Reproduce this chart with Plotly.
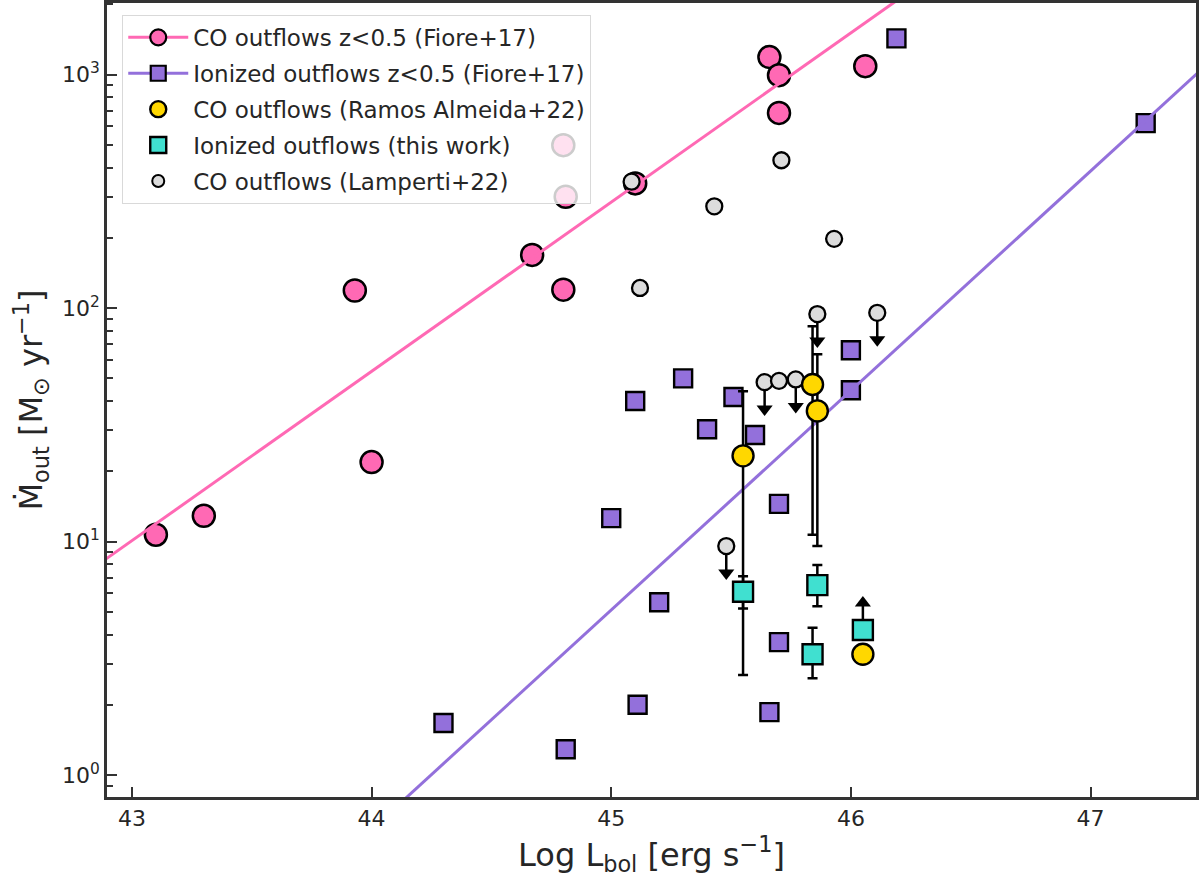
import numpy as np
import plotly.graph_objects as go

# ---------------- data ----------------
# CO outflows z<0.5 (Fiore+17)
co_fiore_x = [43.10, 43.30, 43.93, 44.00, 44.67, 44.80, 44.81, 44.80, 45.10, 45.66, 45.70, 45.70, 46.06]
co_fiore_y = [10.7, 12.9, 119, 21.9, 169, 120, 300, 499, 342, 1190, 995, 686, 1087]

# Ionized outflows z<0.5 (Fiore+17)
ion_fiore_x = [44.30, 44.81, 45.00, 45.10, 45.11, 45.20, 45.30, 45.40, 45.51, 45.60,
               45.66, 45.70, 45.70, 46.00, 46.00, 46.19, 47.23]
ion_fiore_y = [1.67, 1.29, 12.6, 40, 2.0, 5.5, 50, 30.3, 41.6, 28.6,
               1.86, 14.5, 3.71, 66, 44.5, 1430, 620]

# Fiore+17 relations (log Mdot = slope*(logL-45) + norm)
co_rel_slope, co_rel_norm = 0.725, 2.454
ion_rel_slope, ion_rel_norm = 0.940, 0.707

# CO outflows (Ramos Almeida+22)
ra_x = [45.55, 45.84, 45.86, 46.05]
ra_y = [23.3, 47.1, 36.3, 3.29]
ra_lo = [2.68, 10.7, 9.57, 3.29]
ra_hi = [44.0, 83.7, 63.4, 3.29]

# Ionized outflows (this work)
tw_x = [45.55, 45.86, 45.84, 46.05]
tw_y = [6.1, 6.51, 3.29, 4.18]
tw_lo = [5.17, 5.29, 2.60, 4.18]
tw_hi = [7.10, 7.93, 4.27, 4.18]
tw_lowerlim = [False, False, False, True]

# CO outflows (Lamperti+22)
lam_x = [45.085, 45.12, 45.43, 45.71, 45.93, 45.86, 46.11, 45.64, 45.70, 45.77, 45.48]
lam_y = [348, 122, 273, 430, 198, 94.3, 95.5, 48.2, 48.8, 49.5, 9.57]
lam_upperlim = [False, False, False, False, False, True, True, True, False, True, True]

x_range = [42.896, 47.44]
y_range_log = [-0.094, 3.307]
ytick_vals = [1, 10, 100, 1000]
ytick_text = ["10<sup>0</sup>", "10<sup>1</sup>", "10<sup>2</sup>", "10<sup>3</sup>"]
xtick_vals = [43, 44, 45, 46, 47]

# ---------------- styling ----------------
PINK = "#FF69B4"
PURPLE = "#9370DB"
GOLD = "#FFD700"
TURQ = "#40E0D0"
GRAY = "#DCDCDC"
EDGE = "black"
AXC = "#333333"
TXT = "#262626"
FONT = "DejaVu Sans"

PX_DEX = 1.0 / 233.5  # one pixel in dex on the y axis
ARROW_LEN = 34 * PX_DEX
HEAD_OFF = 7 * PX_DEX

fig = go.Figure()

# Fiore data markers (drawn first, below relation lines)
fig.add_trace(go.Scatter(
    x=co_fiore_x, y=co_fiore_y, mode="markers", showlegend=False,
    legendgroup="g1",
    marker=dict(symbol="circle", size=22, color=PINK, line=dict(color=EDGE, width=2.5)),
))
fig.add_trace(go.Scatter(
    x=ion_fiore_x, y=ion_fiore_y, mode="markers", showlegend=False,
    legendgroup="g2",
    marker=dict(symbol="square", size=18, color=PURPLE, line=dict(color=EDGE, width=2.4)),
))

# relation lines (markers at ends fall outside the axes -> clipped; used for legend)
lx = np.array([42.0, 48.5])
fig.add_trace(go.Scatter(
    x=lx, y=10 ** (co_rel_slope * (lx - 45) + co_rel_norm), mode="lines+markers",
    name="CO outflows z<0.5 (Fiore+17)", legendgroup="g1", legendrank=1,
    line=dict(color=PINK, width=3),
    marker=dict(symbol="circle", size=16, color=PINK, line=dict(color=EDGE, width=2.2)),
))
fig.add_trace(go.Scatter(
    x=lx, y=10 ** (ion_rel_slope * (lx - 45) + ion_rel_norm), mode="lines+markers",
    name="Ionized outflows z<0.5 (Fiore+17)", legendgroup="g2", legendrank=2,
    line=dict(color=PURPLE, width=3),
    marker=dict(symbol="square", size=15, color=PURPLE, line=dict(color=EDGE, width=2.2)),
))

# upper-limit arrows for Lamperti
sx, sy, hx, hy = [], [], [], []
for x, y, ul in zip(lam_x, lam_y, lam_upperlim):
    if ul:
        ly = np.log10(y)
        sx += [x, x, None]
        sy += [y, 10 ** (ly - ARROW_LEN + HEAD_OFF), None]
        hx.append(x)
        hy.append(10 ** (ly - ARROW_LEN + HEAD_OFF))
# lower-limit arrow for this work
for x, y, ll in zip(tw_x, tw_y, tw_lowerlim):
    if ll:
        ly = np.log10(y)
        sx += [x, x, None]
        sy += [y, 10 ** (ly + ARROW_LEN - HEAD_OFF), None]
fig.add_trace(go.Scatter(x=sx, y=sy, mode="lines", showlegend=False,
                         line=dict(color=EDGE, width=2.5), hoverinfo="skip"))
fig.add_trace(go.Scatter(x=hx, y=hy, mode="markers", showlegend=False, hoverinfo="skip",
                         marker=dict(symbol="triangle-down", size=14, color=EDGE,
                                     line=dict(width=0))))
ux = [x for x, ll in zip(tw_x, tw_lowerlim) if ll]
uy = [10 ** (np.log10(y) + ARROW_LEN - HEAD_OFF) for y, ll in zip(tw_y, tw_lowerlim) if ll]
fig.add_trace(go.Scatter(x=ux, y=uy, mode="markers", showlegend=False, hoverinfo="skip",
                         marker=dict(symbol="triangle-up", size=14, color=EDGE,
                                     line=dict(width=0))))

# Lamperti+22
fig.add_trace(go.Scatter(
    x=lam_x, y=lam_y, mode="markers", showlegend=False, legendgroup="g5",
    marker=dict(symbol="circle", size=16, color=GRAY, line=dict(color=EDGE, width=2.3)),
))
fig.add_trace(go.Scatter(
    x=[None], y=[None], mode="markers", name="CO outflows (Lamperti+22)",
    legendgroup="g5", legendrank=5,
    marker=dict(symbol="circle", size=12, color=GRAY, line=dict(color=EDGE, width=2)),
))

# Ramos Almeida+22 with error bars
ra_plus = [h - y for h, y in zip(ra_hi, ra_y)]
ra_minus = [y - l for l, y in zip(ra_lo, ra_y)]
fig.add_trace(go.Scatter(
    x=ra_x, y=ra_y, mode="markers", name="CO outflows (Ramos Almeida+22)",
    legendgroup="g3", legendrank=3,
    error_y=dict(type="data", symmetric=False, array=ra_plus, arrayminus=ra_minus,
                 color=EDGE, thickness=2.5, width=5),
    marker=dict(symbol="circle", size=21, color=GOLD, line=dict(color=EDGE, width=2.4)),
))

# this work
tw_plus = [h - y for h, y in zip(tw_hi, tw_y)]
tw_minus = [y - l for l, y in zip(tw_lo, tw_y)]
fig.add_trace(go.Scatter(
    x=tw_x, y=tw_y, mode="markers", name="Ionized outflows (this work)",
    legendgroup="g4", legendrank=4,
    error_y=dict(type="data", symmetric=False, array=tw_plus, arrayminus=tw_minus,
                 color=EDGE, thickness=2.5, width=5),
    marker=dict(symbol="square", size=20, color=TURQ, line=dict(color=EDGE, width=2.4)),
))

minor_vals = [m * 10 ** e for e in range(-1, 4) for m in range(2, 10)]

fig.update_layout(
    width=1200, height=880,
    margin=dict(l=107, r=4, t=3, b=83),
    paper_bgcolor="white", plot_bgcolor="white",
    font=dict(family=FONT, size=22, color=TXT),
    showlegend=True,
    legend=dict(
        x=0.014, y=0.985, xanchor="left", yanchor="top",
        bgcolor="rgba(255,255,255,0.8)", bordercolor="#D9D9D9", borderwidth=1,
        font=dict(family=FONT, size=23, color=TXT),
        traceorder="grouped", tracegroupgap=3, itemwidth=60,
    ),
    xaxis=dict(
        range=x_range, tickvals=xtick_vals, ticks="inside", ticklen=10, tickwidth=2,
        tickcolor=AXC, showline=True, linecolor=AXC, linewidth=2.5, mirror=True,
        showgrid=False, zeroline=False, automargin=False,
        tickfont=dict(family=FONT, size=22, color=TXT),
        title=dict(text="Log L<sub>bol</sub> [erg s<sup>−1</sup>]",
                   font=dict(family=FONT, size=32, color=TXT), standoff=8),
    ),
    yaxis=dict(
        type="log", range=y_range_log, tickvals=ytick_vals, ticktext=ytick_text,
        ticks="inside", ticklen=10, tickwidth=2, tickcolor=AXC,
        minor=dict(tickvals=minor_vals, ticks="inside", ticklen=6, tickwidth=1.8,
                   tickcolor=AXC, showgrid=False),
        showline=True, linecolor=AXC, linewidth=2.5, mirror=True,
        showgrid=False, zeroline=False, automargin=False,
        tickfont=dict(family=FONT, size=22, color=TXT),
        title=dict(text="Ṁ<sub>out</sub> [M<sub>⊙</sub> yr<sup>−1</sup>]",
                   font=dict(family=FONT, size=32, color=TXT), standoff=10),
    ),
)

fig.write_html(
    "out.html",
    config={"displayModeBar": False},
    post_script="document.body.style.margin='0';document.body.style.overflow='hidden';",
)
